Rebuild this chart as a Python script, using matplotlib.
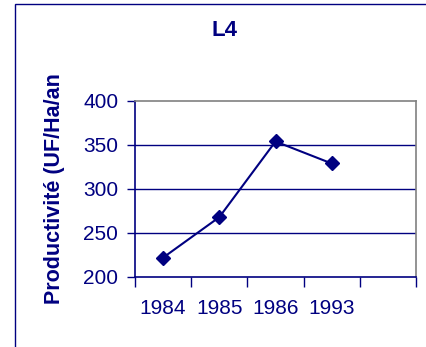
import matplotlib.pyplot as plt
from matplotlib.patches import Rectangle

plt.rcParams['font.family'] = ['Liberation Sans', 'DejaVu Sans']

# Data
years = ['1984', '1985', '1986', '1993', '']
values = [222, 268, 354, 329]

navy = '#000080'
W, H = 427, 347

fig = plt.figure(figsize=(W / 100, H / 100), dpi=100)
ax = fig.add_axes([135 / W, 1 - 277 / H, (416 - 135) / W, (277 - 101) / H])

x = list(range(len(years)))
ax.plot(x[:len(values)], values, color=navy, linewidth=1.5, marker='D',
        markersize=7, markerfacecolor=navy, markeredgecolor=navy)

ax.set_xlim(-0.5, len(years) - 0.5)
ax.set_ylim(200, 400)
ax.set_yticks([200, 250, 300, 350, 400])
ax.set_xticks([i - 0.5 for i in range(len(years) + 1)], minor=False)
ax.set_xticklabels([])
ax.set_xticks(x, minor=True)
ax.set_xticklabels(years, minor=True)
ax.tick_params(axis='x', which='major', length=7, width=1, color=navy, direction='out')
ax.tick_params(axis='x', which='minor', length=0, pad=16, labelsize=15, labelcolor=navy)
ax.tick_params(axis='y', length=6, width=1, color=navy, pad=6, labelsize=15, labelcolor=navy)

for v in [250, 300, 350]:
    ax.axhline(v, color=navy, linewidth=1, zorder=0)

ax.spines['left'].set_color(navy)
ax.spines['bottom'].set_color(navy)
ax.spines['top'].set_color('#808080')
ax.spines['right'].set_color('#808080')
for s in ax.spines.values():
    s.set_linewidth(1.2)

ax.set_ylabel('Productivité (UF/Ha/an', color=navy, fontsize=15.5,
              fontweight='bold')
ax.yaxis.set_label_coords(-0.25, 0.5)
fig.text(225 / W, 1 - 31 / H, 'L4', color=navy, fontsize=16,
         fontweight='bold', ha='center', va='center')

# outer chart border (only left and top visible)
fig.patches.append(Rectangle((15 / W, -0.1), 1.2, 1 - 4 / H + 0.1,
                             transform=fig.transFigure, fill=False,
                             edgecolor=navy, linewidth=1))

fig.savefig('out.png', dpi=100)
